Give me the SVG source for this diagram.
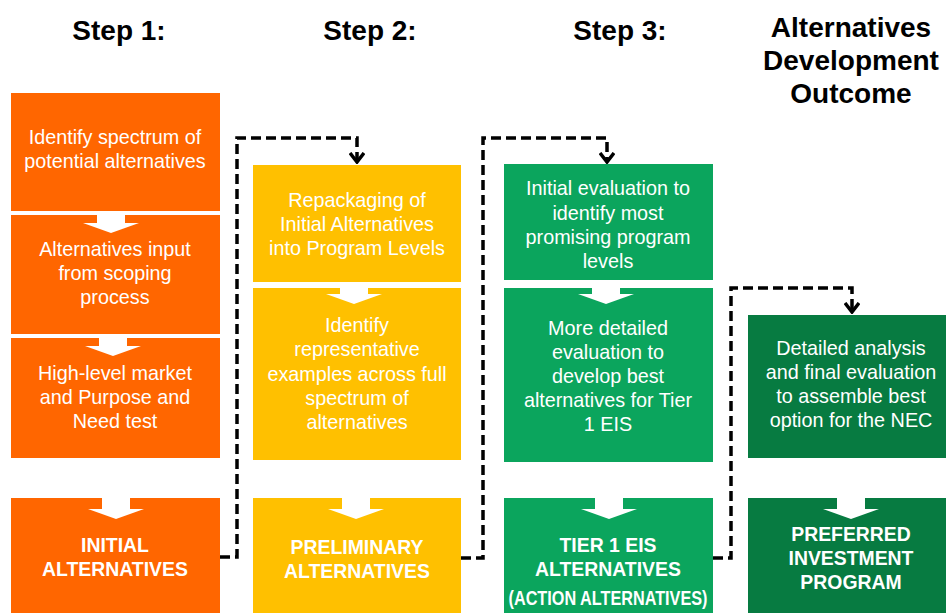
<svg xmlns="http://www.w3.org/2000/svg" width="946" height="613" viewBox="0 0 946 613">
  <style>
    .hdr { font-family: "Liberation Sans", Arial, sans-serif; font-weight: bold; font-size: 28px; fill: #000; text-anchor: middle; }
    .txt { font-family: "Liberation Sans", Arial, sans-serif; font-size: 19.8px; fill: #fff; text-anchor: middle; }
    .lbl { font-family: "Liberation Sans", Arial, sans-serif; font-weight: bold; font-size: 19.4px; fill: #fff; text-anchor: middle; }
    .orange { fill: #FF6600; }
    .yellow { fill: #FFC000; }
    .green { fill: #0BA55D; }
    .dgreen { fill: #077B41; }
    .flow { fill: #fff; }
    .dash { fill: none; stroke: #000; stroke-width: 3.5; stroke-dasharray: 10 5; marker-end: url(#chev); }
  </style>
  <defs>
    <!-- white block arrow between stacked boxes, origin at top centre -->
    <path id="down" d="M-14,0 H14 V12 H28 L0,22 L-28,12 H-14 Z"/>
    <!-- open chevron head, drawn pointing along +x so orient="auto" turns it with the line -->
    <marker id="chev" viewBox="0 0 12 16" refX="10" refY="8" markerWidth="12" markerHeight="16" markerUnits="userSpaceOnUse" orient="auto">
      <polyline points="1,1 10,8 1,15" fill="none" stroke="#000" stroke-width="3.5"/>
    </marker>
  </defs>

  <!-- column headings -->
  <g id="headings">
    <text class="hdr" x="119" y="40">Step 1:</text>
    <text class="hdr" x="370" y="40">Step 2:</text>
    <text class="hdr" x="620" y="40">Step 3:</text>
    <text class="hdr" x="851" y="37">Alternatives</text>
    <text class="hdr" x="851" y="70">Development</text>
    <text class="hdr" x="851" y="103">Outcome</text>
  </g>

  <!-- Step 1 -->
  <g id="s1-spectrum">
    <rect class="orange" x="11" y="93" width="209" height="118"/>
    <text class="txt" x="115" y="144">Identify spectrum of</text>
    <text class="txt" x="115" y="168">potential alternatives</text>
  </g>
  <g id="s1-scoping">
    <rect class="orange" x="11" y="215" width="209" height="119"/>
    <use href="#down" class="flow" x="111" y="211"/>
    <text class="txt" x="115" y="256">Alternatives input</text>
    <text class="txt" x="115" y="280">from scoping</text>
    <text class="txt" x="115" y="304">process</text>
  </g>
  <g id="s1-market">
    <rect class="orange" x="11" y="338" width="209" height="120"/>
    <use href="#down" class="flow" x="113" y="334"/>
    <text class="txt" x="115" y="380">High-level market</text>
    <text class="txt" x="115" y="404">and Purpose and</text>
    <text class="txt" x="115" y="428">Need test</text>
  </g>
  <g id="s1-initial">
    <rect class="orange" x="11" y="498" width="209" height="115"/>
    <use href="#down" class="flow" x="116" y="497"/>
    <text class="lbl" x="115" y="552">INITIAL</text>
    <text class="lbl" x="115" y="576">ALTERNATIVES</text>
  </g>

  <!-- Step 2 -->
  <g id="s2-repackaging">
    <rect class="yellow" x="253" y="165" width="208" height="117"/>
    <text class="txt" x="357" y="207">Repackaging of</text>
    <text class="txt" x="357" y="231">Initial Alternatives</text>
    <text class="txt" x="357" y="255">into Program Levels</text>
  </g>
  <g id="s2-examples">
    <rect class="yellow" x="253" y="288" width="208" height="172"/>
    <use href="#down" class="flow" x="354" y="282"/>
    <text class="txt" x="357" y="332">Identify</text>
    <text class="txt" x="357" y="356">representative</text>
    <text class="txt" x="357" y="381">examples across full</text>
    <text class="txt" x="357" y="405">spectrum of</text>
    <text class="txt" x="357" y="429">alternatives</text>
  </g>
  <g id="s2-preliminary">
    <rect class="yellow" x="253" y="498" width="208" height="115"/>
    <use href="#down" class="flow" x="356" y="497"/>
    <text class="lbl" x="357" y="554">PRELIMINARY</text>
    <text class="lbl" x="357" y="578">ALTERNATIVES</text>
  </g>

  <!-- Step 3 -->
  <g id="s3-initial-eval">
    <rect class="green" x="504" y="164" width="209" height="116"/>
    <text class="txt" x="608" y="195">Initial evaluation to</text>
    <text class="txt" x="608" y="220">identify most</text>
    <text class="txt" x="608" y="244">promising program</text>
    <text class="txt" x="608" y="268">levels</text>
  </g>
  <g id="s3-detailed-eval">
    <rect class="green" x="504" y="288" width="209" height="174"/>
    <use href="#down" class="flow" x="606" y="282"/>
    <text class="txt" x="608" y="335">More detailed</text>
    <text class="txt" x="608" y="359">evaluation to</text>
    <text class="txt" x="608" y="383">develop best</text>
    <text class="txt" x="608" y="407">alternatives for Tier</text>
    <text class="txt" x="608" y="431">1 EIS</text>
  </g>
  <g id="s3-tier1">
    <rect class="green" x="504" y="498" width="209" height="115"/>
    <use href="#down" class="flow" x="609" y="497"/>
    <text class="lbl" x="608" y="552">TIER 1 EIS</text>
    <text class="lbl" x="608" y="576">ALTERNATIVES</text>
    <text class="lbl" x="608" y="605" font-size="16" textLength="199" lengthAdjust="spacingAndGlyphs">(ACTION ALTERNATIVES)</text>
  </g>

  <!-- Outcome -->
  <g id="out-analysis">
    <rect class="dgreen" x="748" y="315" width="210" height="143"/>
    <text class="txt" x="851" y="355">Detailed analysis</text>
    <text class="txt" x="851" y="379">and final evaluation</text>
    <text class="txt" x="851" y="403">to assemble best</text>
    <text class="txt" x="851" y="427">option for the NEC</text>
  </g>
  <g id="out-preferred">
    <rect class="dgreen" x="748" y="498" width="210" height="115"/>
    <use href="#down" class="flow" x="851" y="497"/>
    <text class="lbl" x="851" y="541">PREFERRED</text>
    <text class="lbl" x="851" y="565">INVESTMENT</text>
    <text class="lbl" x="851" y="589">PROGRAM</text>
  </g>

  <!-- dashed hand-offs between steps -->
  <g id="connectors">
    <path class="dash" d="M220,557 H237 V138 H357 V162"/>
    <path class="dash" d="M461,558 H483 V138 H607 V162"/>
    <path class="dash" d="M713,558 H731 V288 H852 V312"/>
  </g>
</svg>
